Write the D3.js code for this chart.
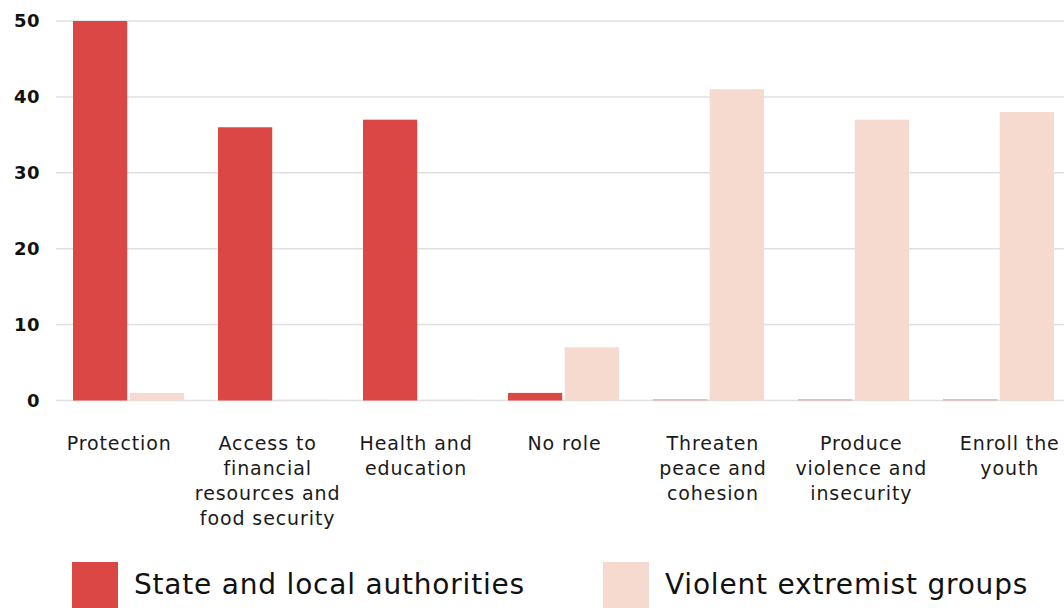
<!DOCTYPE html>
<html>
<head>
<meta charset="utf-8">
<script src="https://cdn.jsdelivr.net/npm/d3@7"></script>
<style>
  html, body { margin: 0; padding: 0; background: #fff; }
  svg { display: block; font-family: "DejaVu Sans", "Open Sans", sans-serif; }
</style>
</head>
<body>
<svg id="chart" width="1064" height="608"></svg>
<script>
// Roles attributed to each actor (share of respondents)
const categories = [
  ["Protection"],
  ["Access to", "financial", "resources and", "food security"],
  ["Health and", "education"],
  ["No role"],
  ["Threaten", "peace and", "cohesion"],
  ["Produce", "violence and", "insecurity"],
  ["Enroll the", "youth"]
];
const seriesNames = ["State and local authorities", "Violent extremist groups"];
const stateValues = [50, 36, 37, 1, 0, 0, 0];
const extremistValues = [1, 0, 0, 7, 41, 37, 38];
const yTicks = [0, 10, 20, 30, 40, 50];
const colors = ["#db4744", "#f6d9cf"];

const svg = d3.select("#chart");
const plotLeft = 56, plotRight = 1071, plotTop = 21, plotBottom = 400.5;

const x0 = d3.scaleBand()
  .domain(d3.range(categories.length))
  .range([plotLeft, plotRight]);
const x1 = d3.scaleBand()
  .domain([0, 1])
  .range([17, x0.bandwidth() - 17])
  .paddingInner(5 / 111);
// category labels sit on their own, slightly wider band
const xLabel = d3.scaleBand()
  .domain(d3.range(categories.length))
  .range([45, 1084]);
const y = d3.scaleLinear().domain([0, 50]).range([plotBottom, plotTop]);

// Gridlines
svg.append("g")
  .selectAll("line")
  .data(yTicks)
  .join("line")
  .attr("x1", plotLeft).attr("x2", 1064)
  .attr("y1", d => y(d)).attr("y2", d => y(d))
  .attr("stroke", "#e0e0e0")
  .attr("stroke-width", 1.5);

// Y tick labels
svg.append("g")
  .selectAll("text")
  .data(yTicks)
  .join("text")
  .attr("x", 40)
  .attr("y", d => y(d))
  .attr("dy", "0.36em")
  .attr("text-anchor", "end")
  .attr("font-size", 18)
  .attr("font-weight", 700)
  .attr("letter-spacing", 0.5)
  .attr("fill", "#111")
  .text(d => d);

// Bars
const series = [stateValues, extremistValues];
const groups = svg.append("g")
  .selectAll("g")
  .data(categories.map((c, i) => i))
  .join("g")
  .attr("transform", i => `translate(${x0(i)},0)`);

groups.selectAll("rect")
  .data(i => series.map((vals, s) => ({ s, v: vals[i] })))
  .join("rect")
  .attr("x", d => x1(d.s))
  .attr("width", x1.bandwidth())
  .attr("y", d => d.v === 0 ? y(0) - 1.5 : y(d.v))
  .attr("height", d => d.v === 0 ? 1.5 : y(0) - y(d.v))
  .attr("fill", d => colors[d.s])
  .attr("opacity", d => d.v === 0 ? 0.35 : 1);

// Category labels
const labels = svg.append("g")
  .selectAll("text")
  .data(categories)
  .join("text")
  .attr("x", (d, i) => xLabel(i) + xLabel.bandwidth() / 2)
  .attr("y", 450)
  .attr("text-anchor", "middle")
  .attr("font-size", 19)
  .attr("letter-spacing", 0.9)
  .attr("fill", "#1a1a1a");
labels.selectAll("tspan")
  .data(d => d)
  .join("tspan")
  .attr("x", function () { return d3.select(this.parentNode).attr("x"); })
  .attr("dy", (d, i) => i === 0 ? 0 : 25)
  .text(d => d);

// Legend
const legend = svg.append("g")
  .selectAll("g")
  .data(seriesNames)
  .join("g")
  .attr("transform", (d, i) => `translate(${[72, 603][i]},562)`);
legend.append("rect")
  .attr("width", 46).attr("height", 46)
  .attr("fill", (d, i) => colors[i]);
legend.append("text")
  .attr("x", 62)
  .attr("y", 22)
  .attr("dy", "0.36em")
  .attr("font-size", 28)
  .attr("letter-spacing", 0.8)
  .attr("fill", "#111")
  .text(d => d);
</script>
</body>
</html>
